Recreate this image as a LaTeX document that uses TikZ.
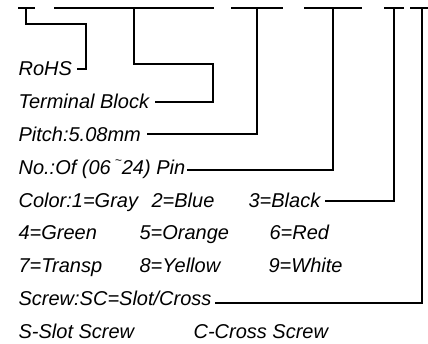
\documentclass[tikz,border=0pt]{standalone}
\usepackage{fontspec}
\setmainfont{Liberation Sans}
\begin{document}
\begin{tikzpicture}[x=1pt,y=-1pt,line width=1.2pt,
  lbl/.style={anchor=base west,inner sep=0pt,font=\fontsize{20}{21}\selectfont\itshape},
  lead/.style={line cap=rect}]
\useasboundingbox (0,0) rectangle (428,344);
% text rows
\node[lbl] (rohs) at (18,76) {RoHS};
\node[lbl] (term) at (18,108.8) {Terminal Block};
\node[lbl] (pitch) at (18,141.6) {Pitch:5.08mm};
\node[lbl] (pin) at (18,174.4) {No.:Of (06\hspace{4pt}\raisebox{0.5em}{\fontsize{12}{12}\selectfont\textasciitilde}24) Pin};
\node[lbl] (c1) at (18,207.2) {Color:1=Gray};
\node[lbl] (c2) at (151,207.2) {2=Blue};
\node[lbl] (c3) at (248,207.2) {3=Black};
\node[lbl] (c4) at (18,240) {4=Green};
\node[lbl] (c5) at (139,240) {5=Orange};
\node[lbl] (c6) at (269,240) {6=Red};
\node[lbl] (c7) at (18,272.8) {7=Transp};
\node[lbl] (c8) at (139,272.8) {8=Yellow};
\node[lbl] (c9) at (268,272.8) {9=White};
\node[lbl] (screw) at (18,305.6) {Screw:SC=Slot/Cross};
\node[lbl] (sslot) at (18,338.4) {S-Slot Screw};
\node[lbl] (ccross) at (193,338.4) {C-Cross Screw};
% top segments
\coordinate (a1) at (18,8); \coordinate (a2) at (35,8); \coordinate (ta) at (26,8);
\coordinate (b1) at (54,8); \coordinate (b2) at (214,8); \coordinate (tb) at (134,8);
\coordinate (d1) at (231,8); \coordinate (d2) at (283,8); \coordinate (td) at (257,8);
\coordinate (e1) at (304,8); \coordinate (e2) at (362,8); \coordinate (te) at (333,8);
\coordinate (f1) at (384,8); \coordinate (f2) at (404,8); \coordinate (tf) at (394,8);
\coordinate (g1) at (410,8); \coordinate (g2) at (428,8); \coordinate (tg) at (422,8);
\foreach \p in {a,b,d,e,f,g} \draw (\p1) -- (\p2);
% leaders
\draw (ta) -- (26,24) -- (86,24) -- (86,69) -- ([xshift=4pt]rohs.east |- 0,69);
\draw (tb) -- (134,64) -- (213,64) -- (213,102) -- ([xshift=5pt]term.east |- 0,102);
\draw (td) -- (257,134) -- ([xshift=6pt]pitch.east |- 0,134);
\draw (te) -- (333,170) -- ([xshift=1pt]pin.east |- 0,170);
\draw (tf) -- (394,201) -- ([xshift=4pt]c3.east |- 0,201);
\draw (tg) -- (422,303) -- ([xshift=3pt]screw.east |- 0,303);
\end{tikzpicture}
\end{document}
